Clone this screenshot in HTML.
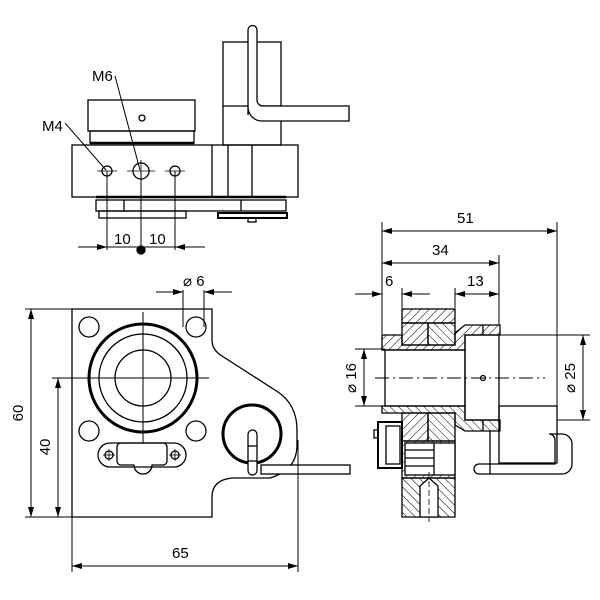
<!DOCTYPE html>
<html><head><meta charset="utf-8"><style>html,body{margin:0;padding:0;background:#fff}svg{display:block}text{font-family:"Liberation Sans",sans-serif;font-size:15px;fill:#000}</style></head><body>
<svg width="600" height="600" viewBox="0 0 600 600" xmlns="http://www.w3.org/2000/svg">
<defs>
<pattern id="h" width="6" height="6" patternUnits="userSpaceOnUse" patternTransform="rotate(45)"><line x1="0" y1="0" x2="0" y2="6" stroke="#000" stroke-width="1"/></pattern>
<pattern id="h2" width="6" height="6" patternUnits="userSpaceOnUse" patternTransform="rotate(-45)"><line x1="0" y1="0" x2="0" y2="6" stroke="#000" stroke-width="1"/></pattern>
<marker id="a" viewBox="0 0 10 6" refX="10" refY="3" markerWidth="10" markerHeight="6" orient="auto-start-reverse" markerUnits="userSpaceOnUse"><path d="M0,0L10,3L0,6z" fill="#000"/></marker>
</defs>
<g fill="none" stroke="#000" stroke-width="1.3">
<!-- TOP VIEW -->
<rect x="88" y="100" width="107" height="31"/>
<rect x="90" y="131" width="104" height="12"/>
<line x1="90" y1="143" x2="194" y2="143" stroke-width="2.5"/>
<circle cx="142" cy="118" r="3"/>
<rect x="72" y="145" width="226" height="52"/>
<line x1="212" y1="145" x2="212" y2="197"/><line x1="228" y1="145" x2="228" y2="197"/><line x1="252" y1="145" x2="252" y2="197"/>
<rect x="223" y="42" width="58" height="103"/>
<line x1="223" y1="106" x2="281" y2="106"/>
<path d="M248,115 V30 a4.5,4.5 0 0 1 9,0 V100 a6,6 0 0 0 6,6 H349 V121 H262 a14,14 0 0 1 -14,-14 Z" fill="#fff"/>
<circle cx="107" cy="171" r="5"/><circle cx="141" cy="171" r="8"/><circle cx="175" cy="171" r="5"/>
<g stroke-width="0.8"><line x1="97" y1="171" x2="117" y2="171"/><line x1="127" y1="171" x2="155" y2="171"/><line x1="165" y1="171" x2="185" y2="171"/><line x1="141" y1="160" x2="141" y2="182"/></g>
<line x1="96" y1="197" x2="286" y2="197" stroke-width="2.5"/>
<rect x="96" y="200" width="190" height="11"/>
<line x1="124" y1="200" x2="124" y2="211"/><line x1="241" y1="200" x2="241" y2="211"/>
<rect x="99" y="211" width="87" height="7"/>
<rect x="218" y="213" width="69" height="5" stroke-width="2"/>
<rect x="248" y="218" width="8" height="4"/>
<g stroke-width="1"><line x1="107" y1="171" x2="107" y2="250"/><line x1="141" y1="171" x2="141" y2="250"/><line x1="175" y1="171" x2="175" y2="250"/>
<line x1="78" y1="247" x2="107" y2="247" marker-end="url(#a)"/><line x1="205" y1="247" x2="175" y2="247" marker-end="url(#a)"/><line x1="107" y1="247" x2="175" y2="247"/>
<line x1="65" y1="123" x2="106" y2="170"/><line x1="115" y1="76" x2="140" y2="170"/></g>
<circle cx="141" cy="250" r="4" fill="#000"/>
<!-- FRONT VIEW -->
<path d="M72,309 H212 V340 Q212,350 222,356 L278,392 Q297,405 297,430 V445 Q297,470 270,478 H232 Q212,480 212,497 V517 H72 Z"/>
<circle cx="143" cy="378" r="54" stroke-width="3"/>
<circle cx="143" cy="378" r="44"/>
<circle cx="143" cy="378" r="28"/>
<g stroke-width="1"><line x1="52" y1="378" x2="209" y2="378"/><line x1="143" y1="312" x2="143" y2="443"/></g>
<circle cx="89" cy="327" r="10"/><circle cx="196" cy="327" r="10"/><circle cx="89" cy="431" r="10"/><circle cx="196" cy="431" r="10"/>
<rect x="98" y="443" width="88" height="24" rx="12"/>
<path d="M121,443 H163 a4,4 0 0 1 4,4 V461 a4,4 0 0 1 -4,4 H152 a9,9 0 0 1 -18,0 H121 a4,4 0 0 1 -4,-4 V447 a4,4 0 0 1 4,-4Z"/>
<circle cx="109" cy="455" r="4"/><circle cx="175" cy="455" r="4"/>
<g stroke-width="0.8"><line x1="103" y1="455" x2="115" y2="455"/><line x1="109" y1="449" x2="109" y2="461"/><line x1="169" y1="455" x2="181" y2="455"/><line x1="175" y1="449" x2="175" y2="461"/></g>
<circle cx="252" cy="434" r="29" stroke-width="3"/>
<rect x="261" y="465" width="89" height="9" fill="#fff"/>
<rect x="248" y="430" width="9" height="45" rx="4.5" fill="#fff"/>
<line x1="248" y1="446" x2="257" y2="446"/><line x1="248" y1="461" x2="257" y2="461"/>
<g stroke-width="1">
<line x1="25" y1="309" x2="72" y2="309"/><line x1="25" y1="517" x2="72" y2="517"/>
<line x1="31" y1="309" x2="31" y2="517" marker-start="url(#a)" marker-end="url(#a)"/>
<line x1="58" y1="378" x2="58" y2="517" marker-start="url(#a)" marker-end="url(#a)"/>
<line x1="72" y1="517" x2="72" y2="572"/><line x1="298" y1="440" x2="298" y2="572"/>
<line x1="72" y1="566" x2="298" y2="566" marker-start="url(#a)" marker-end="url(#a)"/>
<line x1="183" y1="290" x2="183" y2="327"/><line x1="204" y1="290" x2="204" y2="327"/>
<line x1="156" y1="292" x2="183" y2="292" marker-end="url(#a)"/><line x1="232" y1="292" x2="204" y2="292" marker-end="url(#a)"/>
</g>
<!-- SIDE VIEW -->
<g stroke-width="1">
<line x1="382" y1="222" x2="382" y2="334"/><line x1="557" y1="222" x2="557" y2="406"/><line x1="499" y1="255" x2="499" y2="325"/>
<line x1="382" y1="231" x2="557" y2="231" marker-start="url(#a)" marker-end="url(#a)"/>
<line x1="382" y1="263" x2="499" y2="263" marker-start="url(#a)" marker-end="url(#a)"/>
<line x1="355" y1="294" x2="382" y2="294" marker-end="url(#a)"/><line x1="430" y1="294" x2="402" y2="294" marker-end="url(#a)"/>
<line x1="455" y1="294" x2="499" y2="294" marker-start="url(#a)" marker-end="url(#a)"/>
<line x1="402" y1="288" x2="402" y2="308"/><line x1="455" y1="288" x2="455" y2="308"/>
<line x1="355" y1="349" x2="385" y2="349"/><line x1="355" y1="406" x2="385" y2="406"/>
<line x1="364" y1="349" x2="364" y2="406" marker-start="url(#a)" marker-end="url(#a)"/>
<line x1="499" y1="335" x2="590" y2="335"/><line x1="557" y1="420" x2="590" y2="420"/>
<line x1="583" y1="335" x2="583" y2="420" marker-start="url(#a)" marker-end="url(#a)"/>
<line x1="375" y1="378" x2="545" y2="378" stroke-dasharray="14,4,2,4"/>
</g>
<rect x="402" y="309" width="53" height="14" fill="url(#h)"/>
<rect x="402" y="323" width="26" height="22" fill="url(#h)"/>
<rect x="428" y="323" width="27" height="22" fill="url(#h2)"/>
<path d="M382,335 H402 V345 H455 V333 L465,325 H500 V335 H465 V350 H382 Z" fill="url(#h)"/>
<path d="M382,406 H465 V420 H500 V431 H465 L455,425 V413 H382 Z" fill="url(#h2)"/>
<rect x="402" y="413" width="26" height="28" fill="url(#h)"/>
<rect x="428" y="413" width="27" height="28" fill="url(#h2)"/>
<rect x="385" y="350" width="80" height="56"/>
<rect x="465" y="335" width="34" height="85"/>
<circle cx="483" cy="378" r="2.5"/>
<line x1="483" y1="325" x2="483" y2="335"/><line x1="483" y1="420" x2="483" y2="431"/>
<rect x="499" y="406" width="58" height="57"/>
<rect x="378" y="422" width="24" height="46" stroke-width="2"/>
<rect x="386" y="426" width="14" height="38"/>
<rect x="374" y="430" width="4" height="8"/>
<rect x="402" y="441" width="53" height="37" fill="url(#h)"/>
<rect x="405" y="443" width="50" height="32" fill="#fff"/>
<line x1="405" y1="450" x2="434" y2="450"/><line x1="405" y1="458" x2="434" y2="458"/><line x1="405" y1="466" x2="434" y2="466"/><line x1="434" y1="443" x2="434" y2="475"/>
<path d="M402,478 H455 V517 H402 Z" fill="url(#h2)"/>
<path d="M420,517 V486 L429,478 L438,486 V517 Z" fill="#fff"/>
<line x1="429" y1="472" x2="429" y2="522" stroke-width="0.8" stroke-dasharray="6,3"/>
<path d="M479,474 a5,5 0 0 1 0,-10 H555 V440 a6,6 0 0 0 -6,-6 H562 a10,10 0 0 1 10,10 V464 a10,10 0 0 1 -10,10 Z"/>
<line x1="490" y1="431" x2="490" y2="474"/>
</g>
<text x="42" y="131">M4</text>
<text x="92" y="81">M6</text>
<text x="114" y="244">10</text>
<text x="149" y="244">10</text>
<text x="183" y="286">⌀ 6</text>
<text x="172" y="558">65</text>
<text transform="translate(23,413) rotate(-90)" text-anchor="middle">60</text>
<text transform="translate(50,447) rotate(-90)" text-anchor="middle">40</text>
<text x="457" y="223">51</text>
<text x="432" y="255">34</text>
<text x="385" y="286">6</text>
<text x="467" y="286">13</text>
<text transform="translate(356,378) rotate(-90)" text-anchor="middle">⌀ 16</text>
<text transform="translate(575,378) rotate(-90)" text-anchor="middle">⌀ 25</text>
</svg>
</body></html>
